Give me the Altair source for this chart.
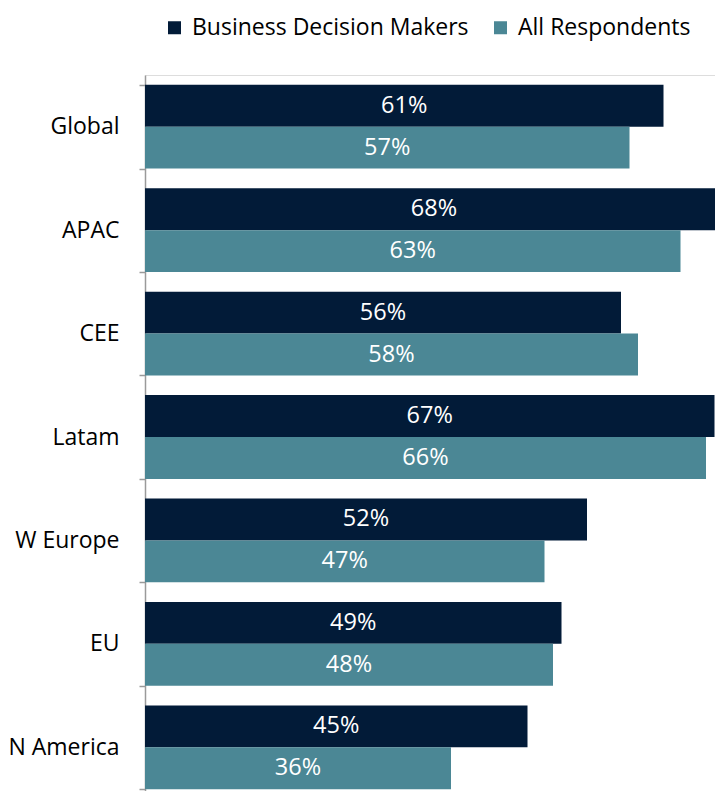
import altair as alt
import pandas as pd

regions = ["Global", "APAC", "CEE", "Latam", "W Europe", "EU", "N America"]
business_decision_makers = [61, 68, 56, 67, 52, 49, 45]
all_respondents = [57, 63, 58, 66, 47, 48, 36]
series_names = ["Business Decision Makers", "All Respondents"]
series_colors = ["#021B38", "#4B8795"]

rows = []
for r, a, b in zip(regions, business_decision_makers, all_respondents):
    rows.append({"region": r, "series": series_names[0], "value": a})
    rows.append({"region": r, "series": series_names[1], "value": b})
df = pd.DataFrame(rows)

FONT = "Open Sans"

y_enc = alt.Y(
    "region:N",
    sort=regions,
    title=None,
    scale=alt.Scale(paddingInner=0.19, paddingOuter=0.095),
    axis=alt.Axis(
        domainColor="#9a9a9a",
        domainWidth=1.5,
        tickColor="#9a9a9a",
        tickWidth=1.5,
        tickSize=6,
        tickBand="extent",
        labelPadding=20,
        labelFontSize=23,
        labelFont=FONT,
        labelColor="#000000",
        grid=False,
    ),
)
yoff = alt.YOffset("series:N", sort=series_names)
x_enc = alt.X("value:Q", scale=alt.Scale(domain=[0, 68]), axis=None)

bars = alt.Chart(df).mark_bar().encode(
    y=y_enc,
    yOffset=yoff,
    x=x_enc,
    color=alt.Color(
        "series:N",
        sort=series_names,
        scale=alt.Scale(domain=series_names, range=series_colors),
        legend=alt.Legend(
            title=None,
            orient="none",
            legendX=18,
            legendY=-59,
            direction="horizontal",
            symbolType="square",
            symbolSize=169,
            symbolStrokeWidth=0,
            labelFontSize=23,
            labelFont=FONT,
            labelColor="#000000",
            labelLimit=500,
            columnPadding=20,
            labelOffset=6,
        ),
    ),
)

labels = alt.Chart(df).mark_text(
    color="white", fontSize=23.5, font=FONT, align="center", baseline="middle"
).transform_calculate(
    half="datum.value / 2", label="datum.value + '%'"
).encode(
    y=alt.Y("region:N", sort=regions),
    yOffset=yoff,
    x=alt.X("half:Q", scale=alt.Scale(domain=[0, 68])),
    text="label:N",
)

chart = alt.layer(bars, labels).properties(
    width=578,
    height=724,
    autosize=alt.AutoSizeParams(type="none"),
    padding={"left": 137, "top": 67, "right": -8, "bottom": -8},
).configure_view(stroke=None).configure(background="white")

chart.save("out.html", embed_options={"renderer": "svg", "actions": False})
